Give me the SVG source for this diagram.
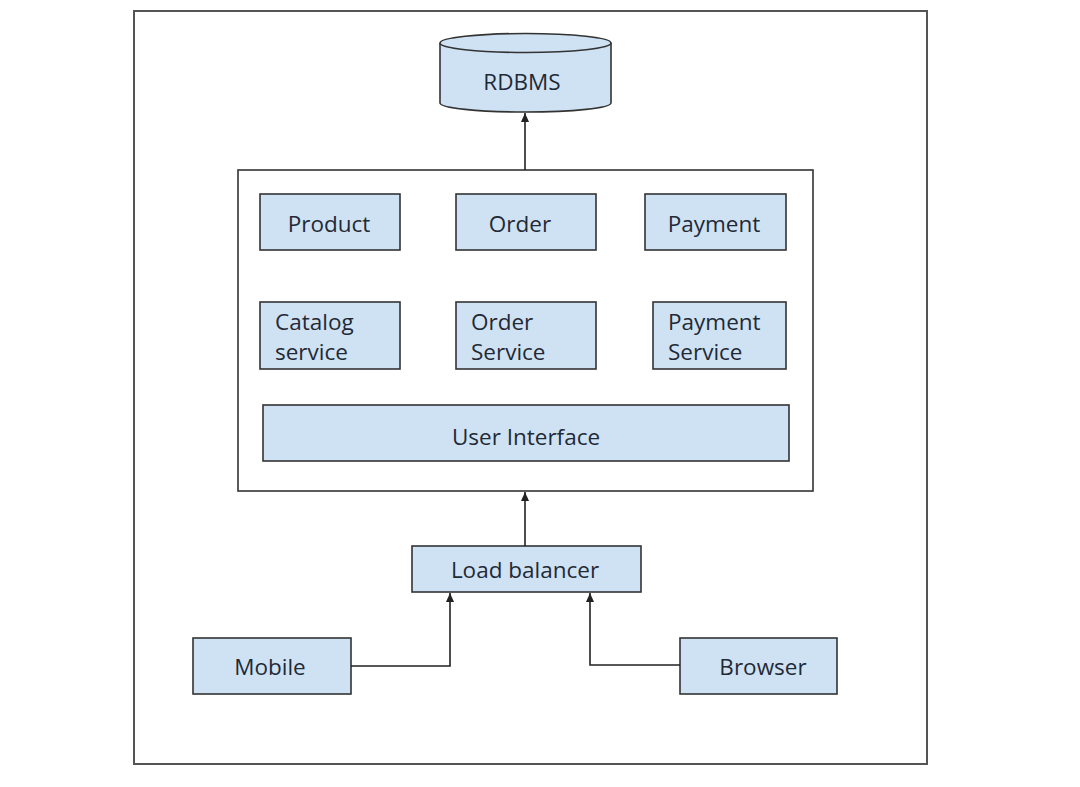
<svg xmlns="http://www.w3.org/2000/svg" width="1080" height="787" viewBox="0 0 1080 787">
<defs>
<marker id="arr" markerWidth="9" markerHeight="8" refX="9" refY="4" orient="auto" markerUnits="userSpaceOnUse" viewBox="0 0 9 8">
<path d="M0,0 L9,4 L0,8 Z" fill="#222"/>
</marker>
<style>
.box{fill:#cfe2f3;stroke:#333;stroke-width:1.6}
.t{font-family:"Open Sans","Liberation Sans",sans-serif;font-size:22.5px;fill:#1f2a36}
.c{text-anchor:middle}
.ln{fill:none;stroke:#222;stroke-width:1.6}
</style>
</defs>
<rect width="1080" height="787" fill="#fff"/>
<rect id="frame" x="134" y="11" width="793" height="753" fill="none" stroke="#555" stroke-width="2"/>
<g id="rdbms">
<path class="box" d="M440,43 L440,103 A85.5,9 0 0 0 611,103 L611,43"/>
<ellipse class="box" cx="525.5" cy="43" rx="85.5" ry="9.5"/>
<text class="t c" x="522" y="90">RDBMS</text>
</g>
<g id="app">
<rect x="238" y="170" width="575" height="321" fill="#fff" stroke="#333" stroke-width="1.6"/>
</g>
<g id="product"><rect class="box" x="260" y="194" width="140" height="56"/><text class="t c" x="329" y="232">Product</text></g>
<g id="order"><rect class="box" x="456" y="194" width="140" height="56"/><text class="t c" x="520" y="232">Order</text></g>
<g id="payment"><rect class="box" x="645" y="194" width="141" height="56"/><text class="t c" x="714" y="232">Payment</text></g>
<g id="catalog"><rect class="box" x="260" y="302" width="140" height="67"/><text class="t" x="275" y="330">Catalog</text><text class="t" x="275" y="360">service</text></g>
<g id="orderService"><rect class="box" x="456" y="302" width="140" height="67"/><text class="t" x="471" y="330">Order</text><text class="t" x="471" y="360">Service</text></g>
<g id="paymentService"><rect class="box" x="653" y="302" width="133" height="67"/><text class="t" x="668" y="330">Payment</text><text class="t" x="668" y="360">Service</text></g>
<g id="ui"><rect class="box" x="263" y="405" width="526" height="56"/><text class="t c" x="526" y="445">User Interface</text></g>
<g id="lb"><rect class="box" x="412" y="546" width="229" height="46"/><text class="t c" x="525" y="578">Load balancer</text></g>
<g id="mobile"><rect class="box" x="193" y="638" width="158" height="56"/><text class="t c" x="270" y="675">Mobile</text></g>
<g id="browser"><rect class="box" x="680" y="638" width="157" height="56"/><text class="t c" x="763" y="675">Browser</text></g>
<g id="connectors">
<path class="ln" d="M525,170 L525,113" marker-end="url(#arr)"/>
<path class="ln" d="M525,546 L525,492" marker-end="url(#arr)"/>
<path class="ln" d="M351,666 L450,666 L450,593" marker-end="url(#arr)"/>
<path class="ln" d="M680,665 L590,665 L590,593" marker-end="url(#arr)"/>
</g>
</svg>
